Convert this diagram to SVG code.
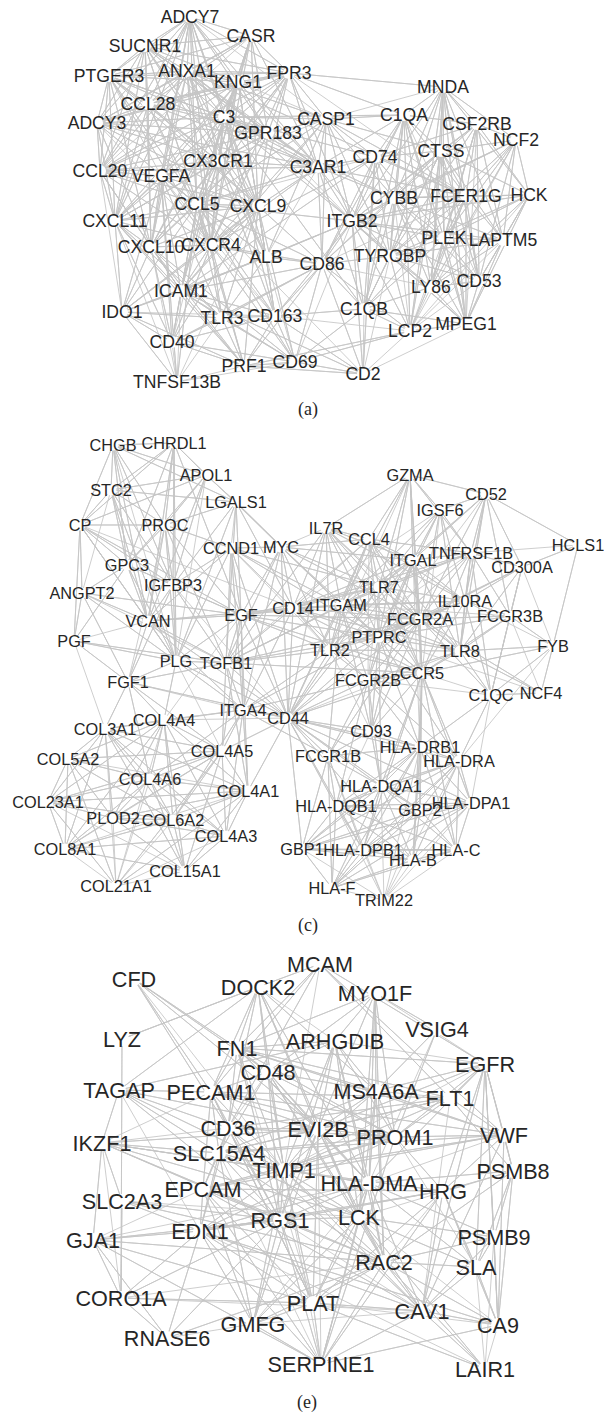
<svg xmlns="http://www.w3.org/2000/svg" width="604" height="1416" viewBox="0 0 604 1416">
<style>
.edges path{fill:none;stroke:#c5c5c5;stroke-width:0.85;stroke-linejoin:round;stroke-linecap:round}
.node circle{fill:#fff}
.node text{font-family:"Liberation Sans",Arial,Helvetica,sans-serif;fill:#262626;text-anchor:middle}
#panel-a .node text{font-size:17.6px}
#panel-c .node text{font-size:16.3px}
#panel-e .node text{font-size:21.6px}
.caption{font-family:"Liberation Serif","Times New Roman",serif;font-size:18px;fill:#262626;text-anchor:middle}
</style>
<rect width="604" height="1416" fill="#fff"/>

<!-- ===== Panel (a) ===== -->
<g id="panel-a">
<g id="edges-a" class="edges">
<path d="M190 17 251 36 190 17 145 46 190 17 109 76 190 17 187 71 190 17 238 82 190 17 289 73 190 17 148 104 190 17 97 123 190 17 224 117 190 17 268 133 190 17 218 161 190 17 100 171 190 17 318 167 190 17 197 204 190 17 258 206 190 17 115 221 190 17 151 247 190 17 211 245 190 17 161 176 190 17 326 119"/>
<path d="M251 36 145 46 251 36 187 71 251 36 238 82 251 36 289 73 251 36 148 104 251 36 224 117 251 36 268 133 251 36 218 161 251 36 318 167 251 36 197 204 251 36 258 206 251 36 211 245 251 36 109 76 251 36 97 123 251 36 100 171"/>
<path d="M145 46 109 76 145 46 187 71 145 46 238 82 145 46 289 73 145 46 148 104 145 46 97 123 145 46 224 117 145 46 268 133 145 46 218 161 145 46 100 171 145 46 318 167 145 46 197 204 145 46 258 206 145 46 115 221 145 46 151 247 145 46 211 245"/>
<path d="M109 76 187 71 109 76 238 82 109 76 289 73 109 76 148 104 109 76 97 123 109 76 224 117 109 76 268 133 109 76 218 161 109 76 100 171 109 76 318 167 109 76 197 204 109 76 258 206 109 76 115 221 109 76 151 247 109 76 211 245 109 76 161 176"/>
<path d="M187 71 238 82 187 71 289 73 187 71 148 104 187 71 97 123 187 71 224 117 187 71 268 133 187 71 218 161 187 71 100 171 187 71 318 167 187 71 197 204 187 71 258 206 187 71 115 221 187 71 151 247 187 71 211 245 187 71 326 119 187 71 266 257 187 71 466 196 187 71 352 221 187 71 161 176"/>
<path d="M238 82 289 73 238 82 148 104 238 82 97 123 238 82 224 117 238 82 268 133 238 82 218 161 238 82 100 171 238 82 318 167 238 82 197 204 238 82 258 206 238 82 115 221 238 82 151 247 238 82 211 245 238 82 266 257 238 82 161 176 238 82 326 119"/>
<path d="M289 73 148 104 289 73 97 123 289 73 224 117 289 73 268 133 289 73 218 161 289 73 100 171 289 73 318 167 289 73 197 204 289 73 258 206 289 73 115 221 289 73 151 247 289 73 211 245 289 73 443 87 289 73 404 115 289 73 326 119 289 73 352 221 289 73 466 196"/>
<path d="M148 104 97 123 148 104 224 117 148 104 268 133 148 104 218 161 148 104 100 171 148 104 318 167 148 104 197 204 148 104 258 206 148 104 115 221 148 104 151 247 148 104 211 245"/>
<path d="M97 123 224 117 97 123 268 133 97 123 218 161 97 123 100 171 97 123 318 167 97 123 197 204 97 123 258 206 97 123 115 221 97 123 151 247 97 123 211 245"/>
<path d="M224 117 268 133 224 117 218 161 224 117 100 171 224 117 318 167 224 117 197 204 224 117 258 206 224 117 115 221 224 117 151 247 224 117 211 245 224 117 326 119 224 117 404 115 224 117 266 257 224 117 352 221 224 117 364 309 224 117 375 157 224 117 394 198 224 117 181 291 224 117 275 316 224 117 161 176"/>
<path d="M268 133 218 161 268 133 100 171 268 133 318 167 268 133 197 204 268 133 258 206 268 133 115 221 268 133 151 247 268 133 211 245 268 133 326 119 268 133 352 221"/>
<path d="M326 119 404 115 326 119 375 157 326 119 352 221 326 119 394 198 326 119 390 256 326 119 318 167 326 119 266 257 326 119 181 291 326 119 197 204 326 119 211 245 326 119 466 196 326 119 441 151 326 119 322 264 326 119 218 161"/>
<path d="M404 115 443 87 404 115 477 124 404 115 375 157 404 115 441 151 404 115 394 198 404 115 466 196 404 115 352 221 404 115 444 238 404 115 390 256 404 115 322 264 404 115 364 309 404 115 431 287 404 115 410 331 404 115 466 324 404 115 318 167 404 115 479 281"/>
<path d="M443 87 477 124 443 87 516 140 443 87 441 151 443 87 394 198 443 87 466 196 443 87 529 195 443 87 352 221 443 87 444 238 443 87 503 240 443 87 390 256 443 87 479 281 443 87 431 287 443 87 466 324 443 87 410 331 443 87 326 119"/>
<path d="M477 124 516 140 477 124 375 157 477 124 441 151 477 124 394 198 477 124 466 196 477 124 529 195 477 124 352 221 477 124 444 238 477 124 503 240 477 124 390 256 477 124 479 281 477 124 431 287 477 124 466 324"/>
<path d="M516 140 441 151 516 140 394 198 516 140 466 196 516 140 529 195 516 140 352 221 516 140 444 238 516 140 503 240 516 140 390 256 516 140 479 281 516 140 431 287 516 140 410 331"/>
<path d="M375 157 441 151 375 157 394 198 375 157 466 196 375 157 352 221 375 157 444 238 375 157 390 256 375 157 322 264 375 157 364 309 375 157 318 167 375 157 211 245 375 157 181 291 375 157 363 374 375 157 197 204"/>
<path d="M441 151 394 198 441 151 466 196 441 151 529 195 441 151 352 221 441 151 444 238 441 151 503 240 441 151 390 256 441 151 479 281 441 151 431 287 441 151 364 309 441 151 466 324 441 151 410 331 441 151 322 264"/>
<path d="M218 161 100 171 218 161 161 176 218 161 318 167 218 161 197 204 218 161 258 206 218 161 115 221 218 161 151 247 218 161 211 245 218 161 266 257 218 161 181 291 218 161 275 316 218 161 172 342"/>
<path d="M100 171 161 176 100 171 318 167 100 171 197 204 100 171 258 206 100 171 115 221 100 171 151 247 100 171 211 245 100 171 181 291 100 171 122 312"/>
<path d="M161 176 197 204 161 176 258 206 161 176 115 221 161 176 151 247 161 176 211 245 161 176 266 257 161 176 181 291 161 176 122 312 161 176 222 318 161 176 172 342 161 176 177 382 161 176 275 316"/>
<path d="M318 167 394 198 318 167 197 204 318 167 258 206 318 167 352 221 318 167 211 245 318 167 390 256 318 167 322 264 318 167 364 309 318 167 466 196 318 167 266 257"/>
<path d="M394 198 466 196 394 198 529 195 394 198 352 221 394 198 444 238 394 198 503 240 394 198 390 256 394 198 322 264 394 198 479 281 394 198 431 287 394 198 364 309 394 198 466 324 394 198 410 331"/>
<path d="M466 196 529 195 466 196 352 221 466 196 444 238 466 196 503 240 466 196 390 256 466 196 479 281 466 196 431 287 466 196 364 309 466 196 466 324 466 196 410 331 466 196 322 264"/>
<path d="M529 195 352 221 529 195 444 238 529 195 503 240 529 195 390 256 529 195 479 281 529 195 431 287 529 195 466 324 529 195 410 331"/>
<path d="M197 204 258 206 197 204 115 221 197 204 151 247 197 204 211 245 197 204 266 257 197 204 181 291 197 204 122 312 197 204 222 318 197 204 172 342 197 204 244 366 197 204 295 362 197 204 177 382 197 204 322 264 197 204 352 221 197 204 275 316 197 204 363 374"/>
<path d="M258 206 115 221 258 206 151 247 258 206 211 245 258 206 266 257 258 206 181 291 258 206 122 312 258 206 222 318 258 206 172 342 258 206 244 366 258 206 295 362 258 206 322 264 258 206 275 316 258 206 177 382"/>
<path d="M115 221 151 247 115 221 211 245 115 221 181 291 115 221 122 312 115 221 222 318 115 221 172 342 115 221 244 366 115 221 177 382"/>
<path d="M352 221 444 238 352 221 503 240 352 221 390 256 352 221 322 264 352 221 479 281 352 221 431 287 352 221 364 309 352 221 466 324 352 221 410 331 352 221 363 374 352 221 181 291 352 221 266 257 352 221 275 316 352 221 295 362"/>
<path d="M151 247 211 245 151 247 181 291 151 247 122 312 151 247 222 318 151 247 172 342 151 247 244 366 151 247 295 362 151 247 177 382"/>
<path d="M211 245 266 257 211 245 181 291 211 245 122 312 211 245 222 318 211 245 172 342 211 245 244 366 211 245 295 362 211 245 322 264 211 245 275 316"/>
<path d="M266 257 181 291 266 257 275 316 266 257 222 318 266 257 322 264 266 257 122 312 266 257 295 362"/>
<path d="M444 238 503 240 444 238 390 256 444 238 479 281 444 238 431 287 444 238 364 309 444 238 466 324 444 238 410 331"/>
<path d="M503 240 390 256 503 240 479 281 503 240 431 287 503 240 466 324 503 240 410 331"/>
<path d="M390 256 322 264 390 256 479 281 390 256 431 287 390 256 364 309 390 256 466 324 390 256 410 331 390 256 363 374"/>
<path d="M322 264 181 291 322 264 364 309 322 264 275 316 322 264 222 318 322 264 172 342 322 264 244 366 322 264 295 362 322 264 363 374 322 264 410 331 322 264 431 287"/>
<path d="M479 281 431 287 479 281 466 324 479 281 410 331"/>
<path d="M431 287 364 309 431 287 466 324 431 287 410 331"/>
<path d="M181 291 122 312 181 291 275 316 181 291 222 318 181 291 172 342 181 291 244 366 181 291 295 362 181 291 363 374 181 291 177 382"/>
<path d="M364 309 275 316 364 309 466 324 364 309 410 331 364 309 295 362 364 309 363 374"/>
<path d="M122 312 222 318 122 312 172 342 122 312 244 366 122 312 177 382 122 312 275 316"/>
<path d="M275 316 222 318 275 316 172 342 275 316 244 366 275 316 295 362 275 316 363 374 275 316 410 331"/>
<path d="M222 318 172 342 222 318 244 366 222 318 295 362 222 318 177 382"/>
<path d="M466 324 410 331 466 324 363 374"/>
<path d="M410 331 244 366 410 331 295 362 410 331 363 374"/>
<path d="M172 342 244 366 172 342 295 362 172 342 177 382"/>
<path d="M244 366 295 362 244 366 363 374 244 366 177 382"/>
<path d="M295 362 363 374 295 362 177 382"/>
</g>
<g id="nodes-a">
<g id="a-ADCY7" class="node" transform="translate(190 17)"><circle r="6"/><text y="6">ADCY7</text></g>
<g id="a-CASR" class="node" transform="translate(251 36)"><circle r="6"/><text y="6">CASR</text></g>
<g id="a-SUCNR1" class="node" transform="translate(145 46)"><circle r="6"/><text y="6">SUCNR1</text></g>
<g id="a-PTGER3" class="node" transform="translate(109 76)"><circle r="6"/><text y="6">PTGER3</text></g>
<g id="a-ANXA1" class="node" transform="translate(187 71)"><circle r="6"/><text y="6">ANXA1</text></g>
<g id="a-KNG1" class="node" transform="translate(238 82)"><circle r="6"/><text y="6">KNG1</text></g>
<g id="a-FPR3" class="node" transform="translate(289 73)"><circle r="6"/><text y="6">FPR3</text></g>
<g id="a-CCL28" class="node" transform="translate(148 104)"><circle r="6"/><text y="6">CCL28</text></g>
<g id="a-ADCY3" class="node" transform="translate(97 123)"><circle r="6"/><text y="6">ADCY3</text></g>
<g id="a-C3" class="node" transform="translate(224 117)"><circle r="6"/><text y="6">C3</text></g>
<g id="a-GPR183" class="node" transform="translate(268 133)"><circle r="6"/><text y="6">GPR183</text></g>
<g id="a-CASP1" class="node" transform="translate(326 119)"><circle r="6"/><text y="6">CASP1</text></g>
<g id="a-C1QA" class="node" transform="translate(404 115)"><circle r="6"/><text y="6">C1QA</text></g>
<g id="a-MNDA" class="node" transform="translate(443 87)"><circle r="6"/><text y="6">MNDA</text></g>
<g id="a-CSF2RB" class="node" transform="translate(477 124)"><circle r="6"/><text y="6">CSF2RB</text></g>
<g id="a-NCF2" class="node" transform="translate(516 140)"><circle r="6"/><text y="6">NCF2</text></g>
<g id="a-CD74" class="node" transform="translate(375 157)"><circle r="6"/><text y="6">CD74</text></g>
<g id="a-CTSS" class="node" transform="translate(441 151)"><circle r="6"/><text y="6">CTSS</text></g>
<g id="a-CX3CR1" class="node" transform="translate(218 161)"><circle r="6"/><text y="6">CX3CR1</text></g>
<g id="a-CCL20" class="node" transform="translate(100 171)"><circle r="6"/><text y="6">CCL20</text></g>
<g id="a-VEGFA" class="node" transform="translate(161 176)"><circle r="6"/><text y="6">VEGFA</text></g>
<g id="a-C3AR1" class="node" transform="translate(318 167)"><circle r="6"/><text y="6">C3AR1</text></g>
<g id="a-CYBB" class="node" transform="translate(394 198)"><circle r="6"/><text y="6">CYBB</text></g>
<g id="a-FCER1G" class="node" transform="translate(466 196)"><circle r="6"/><text y="6">FCER1G</text></g>
<g id="a-HCK" class="node" transform="translate(529 195)"><circle r="6"/><text y="6">HCK</text></g>
<g id="a-CCL5" class="node" transform="translate(197 204)"><circle r="6"/><text y="6">CCL5</text></g>
<g id="a-CXCL9" class="node" transform="translate(258 206)"><circle r="6"/><text y="6">CXCL9</text></g>
<g id="a-CXCL11" class="node" transform="translate(115 221)"><circle r="6"/><text y="6">CXCL11</text></g>
<g id="a-ITGB2" class="node" transform="translate(352 221)"><circle r="6"/><text y="6">ITGB2</text></g>
<g id="a-CXCL10" class="node" transform="translate(151 247)"><circle r="6"/><text y="6">CXCL10</text></g>
<g id="a-CXCR4" class="node" transform="translate(211 245)"><circle r="6"/><text y="6">CXCR4</text></g>
<g id="a-ALB" class="node" transform="translate(266 257)"><circle r="6"/><text y="6">ALB</text></g>
<g id="a-PLEK" class="node" transform="translate(444 238)"><circle r="6"/><text y="6">PLEK</text></g>
<g id="a-LAPTM5" class="node" transform="translate(503 240)"><circle r="6"/><text y="6">LAPTM5</text></g>
<g id="a-TYROBP" class="node" transform="translate(390 256)"><circle r="6"/><text y="6">TYROBP</text></g>
<g id="a-CD86" class="node" transform="translate(322 264)"><circle r="6"/><text y="6">CD86</text></g>
<g id="a-CD53" class="node" transform="translate(479 281)"><circle r="6"/><text y="6">CD53</text></g>
<g id="a-LY86" class="node" transform="translate(431 287)"><circle r="6"/><text y="6">LY86</text></g>
<g id="a-ICAM1" class="node" transform="translate(181 291)"><circle r="6"/><text y="6">ICAM1</text></g>
<g id="a-C1QB" class="node" transform="translate(364 309)"><circle r="6"/><text y="6">C1QB</text></g>
<g id="a-IDO1" class="node" transform="translate(122 312)"><circle r="6"/><text y="6">IDO1</text></g>
<g id="a-CD163" class="node" transform="translate(275 316)"><circle r="6"/><text y="6">CD163</text></g>
<g id="a-TLR3" class="node" transform="translate(222 318)"><circle r="6"/><text y="6">TLR3</text></g>
<g id="a-MPEG1" class="node" transform="translate(466 324)"><circle r="6"/><text y="6">MPEG1</text></g>
<g id="a-LCP2" class="node" transform="translate(410 331)"><circle r="6"/><text y="6">LCP2</text></g>
<g id="a-CD40" class="node" transform="translate(172 342)"><circle r="6"/><text y="6">CD40</text></g>
<g id="a-PRF1" class="node" transform="translate(244 366)"><circle r="6"/><text y="6">PRF1</text></g>
<g id="a-CD69" class="node" transform="translate(295 362)"><circle r="6"/><text y="6">CD69</text></g>
<g id="a-CD2" class="node" transform="translate(363 374)"><circle r="6"/><text y="6">CD2</text></g>
<g id="a-TNFSF13B" class="node" transform="translate(177 382)"><circle r="6"/><text y="6">TNFSF13B</text></g>
</g>
<text class="caption" x="308" y="415">(a)</text>
</g>

<!-- ===== Panel (c) ===== -->
<g id="panel-c">
<g id="edges-c" class="edges">
<path d="M113 445 174 443 113 445 111 490 113 445 80 525 113 445 165 525 113 445 127 565 113 445 173 585 113 445 148 621 113 445 206 475 113 445 236 502 113 445 176 661"/>
<path d="M174 443 206 475 174 443 111 490 174 443 80 525 174 443 165 525 174 443 127 565 174 443 173 585 174 443 148 621 174 443 176 661 174 443 241 615 174 443 281 547"/>
<path d="M206 475 111 490 206 475 80 525 206 475 165 525 206 475 127 565 206 475 173 585 206 475 236 502 206 475 148 621 206 475 176 661"/>
<path d="M111 490 80 525 111 490 165 525 111 490 127 565 111 490 173 585 111 490 148 621 111 490 236 502 111 490 176 661 111 490 82 593"/>
<path d="M236 502 165 525 236 502 173 585 236 502 241 615 236 502 281 547 236 502 293 608 236 502 226 663 236 502 341 605 236 502 176 661 236 502 231 548"/>
<path d="M80 525 165 525 80 525 127 565 80 525 173 585 80 525 148 621 80 525 82 593 80 525 74 641 80 525 176 661 80 525 241 615 80 525 293 608"/>
<path d="M165 525 127 565 165 525 173 585 165 525 148 621 165 525 176 661 165 525 241 615 165 525 226 663 165 525 231 548 165 525 128 682"/>
<path d="M231 548 281 547 231 548 241 615 231 548 293 608 231 548 226 663 231 548 288 718 231 548 243 710 231 548 173 585 231 548 148 621 231 548 176 661 231 548 379 587 231 548 379 637 231 548 341 605 231 548 330 650"/>
<path d="M281 547 241 615 281 547 293 608 281 547 226 663 281 547 288 718 281 547 243 710 281 547 379 587 281 547 379 637 281 547 341 605 281 547 420 619 281 547 330 650 281 547 413 560 281 547 369 539 281 547 326 528"/>
<path d="M127 565 173 585 127 565 148 621 127 565 176 661 127 565 82 593 127 565 74 641 127 565 241 615"/>
<path d="M173 585 148 621 173 585 176 661 173 585 241 615 173 585 226 663 173 585 128 682 173 585 288 718"/>
<path d="M82 593 148 621 82 593 74 641 82 593 176 661 82 593 128 682 82 593 241 615 82 593 226 663"/>
<path d="M148 621 241 615 148 621 176 661 148 621 226 663 148 621 288 718 148 621 293 608 148 621 243 710 148 621 128 682 148 621 74 641"/>
<path d="M241 615 293 608 241 615 176 661 241 615 226 663 241 615 288 718 241 615 243 710 241 615 341 605 241 615 379 637 241 615 330 650 241 615 379 587 241 615 420 619 241 615 422 673 241 615 222 751 241 615 248 791 241 615 164 720"/>
<path d="M293 608 226 663 293 608 326 528 293 608 369 539 293 608 413 560 293 608 379 587 293 608 341 605 293 608 420 619 293 608 379 637 293 608 330 650 293 608 460 651 293 608 422 673 293 608 288 718 293 608 243 710 293 608 368 680 293 608 465 601 293 608 471 553 293 608 440 510"/>
<path d="M74 641 176 661 74 641 128 682 74 641 226 663 74 641 105 729"/>
<path d="M176 661 226 663 176 661 128 682 176 661 288 718 176 661 243 710 176 661 164 720 176 661 222 751"/>
<path d="M226 663 341 605 226 663 379 637 226 663 330 650 226 663 288 718 226 663 243 710 226 663 128 682 226 663 420 619 226 663 422 673 226 663 379 587 226 663 222 751 226 663 248 791 226 663 326 528 226 663 369 539"/>
<path d="M410 475 486 494 410 475 440 510 410 475 326 528 410 475 369 539 410 475 413 560 410 475 379 587 410 475 420 619 410 475 379 637 410 475 471 553 410 475 341 605 410 475 422 673 410 475 330 650"/>
<path d="M486 494 440 510 486 494 578 545 486 494 413 560 486 494 471 553 486 494 522 567 486 494 465 601 486 494 420 619 486 494 460 651 486 494 510 616 486 494 379 587 486 494 379 637"/>
<path d="M440 510 413 560 440 510 471 553 440 510 341 605 440 510 465 601 440 510 420 619 440 510 379 637 440 510 379 587 440 510 460 651 440 510 422 673"/>
<path d="M326 528 369 539 326 528 413 560 326 528 379 587 326 528 341 605 326 528 420 619 326 528 379 637 326 528 330 650 326 528 422 673 326 528 288 718 326 528 465 601 326 528 460 651"/>
<path d="M369 539 413 560 369 539 471 553 369 539 379 587 369 539 341 605 369 539 465 601 369 539 420 619 369 539 379 637 369 539 330 650 369 539 460 651 369 539 422 673 369 539 288 718 369 539 368 680"/>
<path d="M578 545 522 567 578 545 553 646 578 545 471 553"/>
<path d="M413 560 471 553 413 560 379 587 413 560 341 605 413 560 465 601 413 560 420 619 413 560 379 637 413 560 330 650 413 560 460 651 413 560 422 673 413 560 288 718 413 560 371 731 413 560 368 680 413 560 420 747"/>
<path d="M471 553 379 587 471 553 341 605 471 553 465 601 471 553 420 619 471 553 510 616 471 553 379 637 471 553 460 651 471 553 422 673 471 553 491 695 471 553 522 567 471 553 330 650"/>
<path d="M522 567 465 601 522 567 420 619 522 567 510 616 522 567 379 637 522 567 460 651 522 567 491 695 522 567 553 646"/>
<path d="M379 587 341 605 379 587 465 601 379 587 420 619 379 587 379 637 379 587 330 650 379 587 460 651 379 587 422 673 379 587 288 718 379 587 368 680"/>
<path d="M341 605 465 601 341 605 420 619 341 605 379 637 341 605 330 650 341 605 460 651 341 605 422 673 341 605 288 718 341 605 368 680 341 605 371 731 341 605 328 756 341 605 510 616"/>
<path d="M465 601 420 619 465 601 379 637 465 601 330 650 465 601 460 651 465 601 422 673 465 601 491 695 465 601 510 616 465 601 553 646"/>
<path d="M420 619 510 616 420 619 379 637 420 619 330 650 420 619 460 651 420 619 422 673 420 619 288 718 420 619 368 680 420 619 491 695 420 619 541 693 420 619 328 756 420 619 371 731 420 619 420 747"/>
<path d="M510 616 379 637 510 616 460 651 510 616 422 673 510 616 553 646 510 616 491 695 510 616 541 693"/>
<path d="M379 637 330 650 379 637 460 651 379 637 422 673 379 637 288 718 379 637 368 680 379 637 371 731 379 637 420 747 379 637 459 761 379 637 243 710 379 637 381 786 379 637 541 693"/>
<path d="M330 650 460 651 330 650 422 673 330 650 288 718 330 650 368 680 330 650 243 710 330 650 371 731"/>
<path d="M460 651 553 646 460 651 422 673 460 651 368 680 460 651 491 695 460 651 541 693 460 651 288 718"/>
<path d="M553 646 422 673 553 646 541 693 553 646 491 695 553 646 459 761"/>
<path d="M422 673 288 718 422 673 368 680 422 673 371 731 422 673 420 747 422 673 459 761 422 673 381 786 422 673 420 810 422 673 471 803 422 673 363 850 422 673 413 860 422 673 456 850 422 673 491 695"/>
<path d="M128 682 105 729 128 682 164 720 128 682 222 751 128 682 150 779 128 682 288 718 128 682 243 710"/>
<path d="M243 710 288 718 243 710 164 720 243 710 222 751 243 710 150 779 243 710 248 791 243 710 226 836 243 710 173 820 243 710 328 756 243 710 368 680 243 710 105 729"/>
<path d="M288 718 368 680 288 718 371 731 288 718 420 747 288 718 328 756 288 718 459 761 288 718 381 786 288 718 336 806 288 718 420 810 288 718 471 803 288 718 302 849 288 718 363 850 288 718 413 860 288 718 222 751 288 718 248 791 288 718 164 720"/>
<path d="M105 729 164 720 105 729 68 759 105 729 222 751 105 729 150 779 105 729 248 791 105 729 48 802 105 729 113 818 105 729 173 820 105 729 226 836 105 729 65 849 105 729 185 871 105 729 116 886"/>
<path d="M164 720 68 759 164 720 222 751 164 720 150 779 164 720 248 791 164 720 48 802 164 720 113 818 164 720 173 820 164 720 226 836 164 720 65 849 164 720 185 871 164 720 116 886"/>
<path d="M68 759 222 751 68 759 150 779 68 759 48 802 68 759 113 818 68 759 173 820 68 759 65 849 68 759 116 886 68 759 248 791"/>
<path d="M222 751 150 779 222 751 248 791 222 751 48 802 222 751 113 818 222 751 173 820 222 751 226 836 222 751 185 871 222 751 116 886 222 751 65 849"/>
<path d="M150 779 248 791 150 779 48 802 150 779 113 818 150 779 173 820 150 779 226 836 150 779 65 849 150 779 185 871 150 779 116 886"/>
<path d="M248 791 48 802 248 791 113 818 248 791 173 820 248 791 226 836 248 791 185 871 248 791 116 886 248 791 65 849"/>
<path d="M48 802 113 818 48 802 173 820 48 802 65 849 48 802 116 886 48 802 185 871"/>
<path d="M113 818 173 820 113 818 226 836 113 818 65 849 113 818 185 871 113 818 116 886"/>
<path d="M173 820 226 836 173 820 65 849 173 820 185 871 173 820 116 886"/>
<path d="M226 836 65 849 226 836 185 871 226 836 116 886"/>
<path d="M65 849 185 871 65 849 116 886 M185 871 116 886"/>
<path d="M368 680 371 731 368 680 420 747 368 680 328 756 368 680 459 761 368 680 381 786 368 680 336 806 368 680 491 695"/>
<path d="M491 695 541 693 491 695 459 761 491 695 420 747 491 695 471 803"/>
<path d="M371 731 420 747 371 731 328 756 371 731 381 786 371 731 336 806"/>
<path d="M420 747 328 756 420 747 459 761 420 747 381 786 420 747 336 806 420 747 420 810 420 747 471 803 420 747 302 849 420 747 363 850 420 747 413 860 420 747 456 850 420 747 332 888 420 747 384 900"/>
<path d="M328 756 381 786 328 756 336 806 328 756 302 849 328 756 363 850 328 756 332 888 328 756 384 900"/>
<path d="M459 761 381 786 459 761 336 806 459 761 420 810 459 761 471 803 459 761 302 849 459 761 363 850 459 761 413 860 459 761 456 850 459 761 332 888 459 761 384 900"/>
<path d="M381 786 336 806 381 786 420 810 381 786 471 803 381 786 302 849 381 786 363 850 381 786 413 860 381 786 456 850 381 786 332 888 381 786 384 900"/>
<path d="M336 806 420 810 336 806 471 803 336 806 302 849 336 806 363 850 336 806 413 860 336 806 456 850 336 806 332 888 336 806 384 900"/>
<path d="M420 810 471 803 420 810 302 849 420 810 363 850 420 810 413 860 420 810 456 850 420 810 332 888 420 810 384 900"/>
<path d="M471 803 302 849 471 803 363 850 471 803 413 860 471 803 456 850 471 803 332 888 471 803 384 900"/>
<path d="M302 849 363 850 302 849 413 860 302 849 456 850 302 849 332 888 302 849 384 900"/>
<path d="M363 850 413 860 363 850 456 850 363 850 332 888 363 850 384 900"/>
<path d="M413 860 456 850 413 860 332 888 413 860 384 900"/>
<path d="M456 850 332 888 456 850 384 900 M332 888 384 900"/>
</g>
<g id="nodes-c">
<g id="c-CHGB" class="node" transform="translate(113 445)"><circle r="5.5"/><text y="5.5">CHGB</text></g>
<g id="c-CHRDL1" class="node" transform="translate(174 443)"><circle r="5.5"/><text y="5.5">CHRDL1</text></g>
<g id="c-APOL1" class="node" transform="translate(206 475)"><circle r="5.5"/><text y="5.5">APOL1</text></g>
<g id="c-STC2" class="node" transform="translate(111 490)"><circle r="5.5"/><text y="5.5">STC2</text></g>
<g id="c-LGALS1" class="node" transform="translate(236 502)"><circle r="5.5"/><text y="5.5">LGALS1</text></g>
<g id="c-CP" class="node" transform="translate(80 525)"><circle r="5.5"/><text y="5.5">CP</text></g>
<g id="c-PROC" class="node" transform="translate(165 525)"><circle r="5.5"/><text y="5.5">PROC</text></g>
<g id="c-CCND1" class="node" transform="translate(231 548)"><circle r="5.5"/><text y="5.5">CCND1</text></g>
<g id="c-MYC" class="node" transform="translate(281 547)"><circle r="5.5"/><text y="5.5">MYC</text></g>
<g id="c-GPC3" class="node" transform="translate(127 565)"><circle r="5.5"/><text y="5.5">GPC3</text></g>
<g id="c-IGFBP3" class="node" transform="translate(173 585)"><circle r="5.5"/><text y="5.5">IGFBP3</text></g>
<g id="c-ANGPT2" class="node" transform="translate(82 593)"><circle r="5.5"/><text y="5.5">ANGPT2</text></g>
<g id="c-VCAN" class="node" transform="translate(148 621)"><circle r="5.5"/><text y="5.5">VCAN</text></g>
<g id="c-EGF" class="node" transform="translate(241 615)"><circle r="5.5"/><text y="5.5">EGF</text></g>
<g id="c-CD14" class="node" transform="translate(293 608)"><circle r="5.5"/><text y="5.5">CD14</text></g>
<g id="c-PGF" class="node" transform="translate(74 641)"><circle r="5.5"/><text y="5.5">PGF</text></g>
<g id="c-PLG" class="node" transform="translate(176 661)"><circle r="5.5"/><text y="5.5">PLG</text></g>
<g id="c-TGFB1" class="node" transform="translate(226 663)"><circle r="5.5"/><text y="5.5">TGFB1</text></g>
<g id="c-GZMA" class="node" transform="translate(410 475)"><circle r="5.5"/><text y="5.5">GZMA</text></g>
<g id="c-CD52" class="node" transform="translate(486 494)"><circle r="5.5"/><text y="5.5">CD52</text></g>
<g id="c-IGSF6" class="node" transform="translate(440 510)"><circle r="5.5"/><text y="5.5">IGSF6</text></g>
<g id="c-IL7R" class="node" transform="translate(326 528)"><circle r="5.5"/><text y="5.5">IL7R</text></g>
<g id="c-CCL4" class="node" transform="translate(369 539)"><circle r="5.5"/><text y="5.5">CCL4</text></g>
<g id="c-HCLS1" class="node" transform="translate(578 545)"><circle r="5.5"/><text y="5.5">HCLS1</text></g>
<g id="c-ITGAL" class="node" transform="translate(413 560)"><circle r="5.5"/><text y="5.5">ITGAL</text></g>
<g id="c-TNFRSF1B" class="node" transform="translate(471 553)"><circle r="5.5"/><text y="5.5">TNFRSF1B</text></g>
<g id="c-CD300A" class="node" transform="translate(522 567)"><circle r="5.5"/><text y="5.5">CD300A</text></g>
<g id="c-TLR7" class="node" transform="translate(379 587)"><circle r="5.5"/><text y="5.5">TLR7</text></g>
<g id="c-ITGAM" class="node" transform="translate(341 605)"><circle r="5.5"/><text y="5.5">ITGAM</text></g>
<g id="c-IL10RA" class="node" transform="translate(465 601)"><circle r="5.5"/><text y="5.5">IL10RA</text></g>
<g id="c-FCGR2A" class="node" transform="translate(420 619)"><circle r="5.5"/><text y="5.5">FCGR2A</text></g>
<g id="c-FCGR3B" class="node" transform="translate(510 616)"><circle r="5.5"/><text y="5.5">FCGR3B</text></g>
<g id="c-PTPRC" class="node" transform="translate(379 637)"><circle r="5.5"/><text y="5.5">PTPRC</text></g>
<g id="c-TLR2" class="node" transform="translate(330 650)"><circle r="5.5"/><text y="5.5">TLR2</text></g>
<g id="c-TLR8" class="node" transform="translate(460 651)"><circle r="5.5"/><text y="5.5">TLR8</text></g>
<g id="c-FYB" class="node" transform="translate(553 646)"><circle r="5.5"/><text y="5.5">FYB</text></g>
<g id="c-CCR5" class="node" transform="translate(422 673)"><circle r="5.5"/><text y="5.5">CCR5</text></g>
<g id="c-FGF1" class="node" transform="translate(128 682)"><circle r="5.5"/><text y="5.5">FGF1</text></g>
<g id="c-ITGA4" class="node" transform="translate(243 710)"><circle r="5.5"/><text y="5.5">ITGA4</text></g>
<g id="c-CD44" class="node" transform="translate(288 718)"><circle r="5.5"/><text y="5.5">CD44</text></g>
<g id="c-COL3A1" class="node" transform="translate(105 729)"><circle r="5.5"/><text y="5.5">COL3A1</text></g>
<g id="c-COL4A4" class="node" transform="translate(164 720)"><circle r="5.5"/><text y="5.5">COL4A4</text></g>
<g id="c-COL5A2" class="node" transform="translate(68 759)"><circle r="5.5"/><text y="5.5">COL5A2</text></g>
<g id="c-COL4A5" class="node" transform="translate(222 751)"><circle r="5.5"/><text y="5.5">COL4A5</text></g>
<g id="c-COL4A6" class="node" transform="translate(150 779)"><circle r="5.5"/><text y="5.5">COL4A6</text></g>
<g id="c-COL4A1" class="node" transform="translate(248 791)"><circle r="5.5"/><text y="5.5">COL4A1</text></g>
<g id="c-COL23A1" class="node" transform="translate(48 802)"><circle r="5.5"/><text y="5.5">COL23A1</text></g>
<g id="c-PLOD2" class="node" transform="translate(113 818)"><circle r="5.5"/><text y="5.5">PLOD2</text></g>
<g id="c-COL6A2" class="node" transform="translate(173 820)"><circle r="5.5"/><text y="5.5">COL6A2</text></g>
<g id="c-COL4A3" class="node" transform="translate(226 836)"><circle r="5.5"/><text y="5.5">COL4A3</text></g>
<g id="c-COL8A1" class="node" transform="translate(65 849)"><circle r="5.5"/><text y="5.5">COL8A1</text></g>
<g id="c-COL15A1" class="node" transform="translate(185 871)"><circle r="5.5"/><text y="5.5">COL15A1</text></g>
<g id="c-COL21A1" class="node" transform="translate(116 886)"><circle r="5.5"/><text y="5.5">COL21A1</text></g>
<g id="c-FCGR2B" class="node" transform="translate(368 680)"><circle r="5.5"/><text y="5.5">FCGR2B</text></g>
<g id="c-C1QC" class="node" transform="translate(491 695)"><circle r="5.5"/><text y="5.5">C1QC</text></g>
<g id="c-NCF4" class="node" transform="translate(541 693)"><circle r="5.5"/><text y="5.5">NCF4</text></g>
<g id="c-CD93" class="node" transform="translate(371 731)"><circle r="5.5"/><text y="5.5">CD93</text></g>
<g id="c-HLA-DRB1" class="node" transform="translate(420 747)"><circle r="5.5"/><text y="5.5">HLA-DRB1</text></g>
<g id="c-FCGR1B" class="node" transform="translate(328 756)"><circle r="5.5"/><text y="5.5">FCGR1B</text></g>
<g id="c-HLA-DRA" class="node" transform="translate(459 761)"><circle r="5.5"/><text y="5.5">HLA-DRA</text></g>
<g id="c-HLA-DQA1" class="node" transform="translate(381 786)"><circle r="5.5"/><text y="5.5">HLA-DQA1</text></g>
<g id="c-HLA-DQB1" class="node" transform="translate(336 806)"><circle r="5.5"/><text y="5.5">HLA-DQB1</text></g>
<g id="c-GBP2" class="node" transform="translate(420 810)"><circle r="5.5"/><text y="5.5">GBP2</text></g>
<g id="c-HLA-DPA1" class="node" transform="translate(471 803)"><circle r="5.5"/><text y="5.5">HLA-DPA1</text></g>
<g id="c-GBP1" class="node" transform="translate(302 849)"><circle r="5.5"/><text y="5.5">GBP1</text></g>
<g id="c-HLA-DPB1" class="node" transform="translate(363 850)"><circle r="5.5"/><text y="5.5">HLA-DPB1</text></g>
<g id="c-HLA-B" class="node" transform="translate(413 860)"><circle r="5.5"/><text y="5.5">HLA-B</text></g>
<g id="c-HLA-C" class="node" transform="translate(456 850)"><circle r="5.5"/><text y="5.5">HLA-C</text></g>
<g id="c-HLA-F" class="node" transform="translate(332 888)"><circle r="5.5"/><text y="5.5">HLA-F</text></g>
<g id="c-TRIM22" class="node" transform="translate(384 900)"><circle r="5.5"/><text y="5.5">TRIM22</text></g>
</g>
<text class="caption" x="308" y="931">(c)</text>
</g>

<!-- ===== Panel (e) ===== -->
<g id="panel-e">
<g id="edges-e" class="edges">
<path d="M320 964 258 987 320 964 237 1048 320 964 211 1092 320 964 485 1064 320 964 504 1135 320 964 228 1128 320 964 450 1098 320 964 284 1170"/>
<path d="M134 979 237 1048 134 979 211 1092 134 979 228 1128 134 979 268 1072 134 979 318 1129 134 979 284 1170"/>
<path d="M258 987 122 1039 258 987 119 1090 258 987 237 1048 258 987 268 1072 258 987 211 1092 258 987 228 1128 258 987 318 1129 258 987 284 1170 258 987 369 1183 258 987 359 1217 258 987 376 1091 258 987 335 1041"/>
<path d="M375 993 335 1041 375 993 376 1091 375 993 395 1137 375 993 369 1183 375 993 359 1217 375 993 384 1262 375 993 318 1129 375 993 268 1072 375 993 237 1048 375 993 437 1029 375 993 485 1064"/>
<path d="M122 1039 121 1298 122 1039 258 987"/>
<path d="M237 1048 335 1041 237 1048 485 1064 237 1048 268 1072 237 1048 211 1092 237 1048 376 1091 237 1048 450 1098 237 1048 228 1128 237 1048 318 1129 237 1048 395 1137 237 1048 504 1135 237 1048 284 1170 237 1048 369 1183 237 1048 280 1220 237 1048 313 1303"/>
<path d="M335 1041 268 1072 335 1041 376 1091 335 1041 318 1129 335 1041 395 1137 335 1041 369 1183 335 1041 359 1217 335 1041 384 1262 335 1041 284 1170 335 1041 119 1090 335 1041 280 1220 335 1041 485 1064"/>
<path d="M437 1029 376 1091 437 1029 395 1137 437 1029 369 1183"/>
<path d="M485 1064 376 1091 485 1064 450 1098 485 1064 395 1137 485 1064 504 1135 485 1064 513 1171 485 1064 494 1237 485 1064 476 1267 485 1064 498 1325 485 1064 369 1183 485 1064 443 1191 485 1064 422 1311 485 1064 318 1129 485 1064 284 1170"/>
<path d="M268 1072 211 1092 268 1072 376 1091 268 1072 318 1129 268 1072 395 1137 268 1072 284 1170 268 1072 369 1183 268 1072 280 1220 268 1072 359 1217 268 1072 384 1262 268 1072 219 1153 268 1072 228 1128"/>
<path d="M119 1090 211 1092 119 1090 228 1128 119 1090 102 1143 119 1090 219 1153 119 1090 284 1170 119 1090 280 1220 119 1090 318 1129 119 1090 200 1231"/>
<path d="M211 1092 450 1098 211 1092 228 1128 211 1092 318 1129 211 1092 395 1137 211 1092 504 1135 211 1092 219 1153 211 1092 284 1170 211 1092 203 1189 211 1092 280 1220 211 1092 313 1303 211 1092 102 1143"/>
<path d="M376 1091 318 1129 376 1091 395 1137 376 1091 369 1183 376 1091 359 1217 376 1091 384 1262 376 1091 504 1135 376 1091 284 1170 376 1091 219 1153 376 1091 450 1098"/>
<path d="M450 1098 395 1137 450 1098 504 1135 450 1098 228 1128 450 1098 318 1129 450 1098 284 1170 450 1098 219 1153 450 1098 513 1171 450 1098 422 1311"/>
<path d="M228 1128 318 1129 228 1128 219 1153 228 1128 284 1170 228 1128 203 1189 228 1128 280 1220 228 1128 200 1231 228 1128 313 1303 228 1128 422 1311 228 1128 395 1137 228 1128 102 1143"/>
<path d="M318 1129 395 1137 318 1129 219 1153 318 1129 284 1170 318 1129 369 1183 318 1129 280 1220 318 1129 359 1217 318 1129 384 1262 318 1129 102 1143 318 1129 313 1303 318 1129 253 1324 318 1129 321 1364"/>
<path d="M395 1137 504 1135 395 1137 284 1170 395 1137 203 1189 395 1137 219 1153 395 1137 443 1191 395 1137 200 1231 395 1137 321 1364 395 1137 476 1267"/>
<path d="M504 1135 513 1171 504 1135 284 1170 504 1135 219 1153 504 1135 422 1311 504 1135 203 1189 504 1135 443 1191 504 1135 498 1325 504 1135 369 1183"/>
<path d="M102 1143 219 1153 102 1143 284 1170 102 1143 369 1183 102 1143 280 1220 102 1143 359 1217 102 1143 384 1262 102 1143 122 1201 102 1143 93 1240 102 1143 121 1298"/>
<path d="M219 1153 284 1170 219 1153 280 1220 219 1153 203 1189 219 1153 200 1231 219 1153 359 1217 219 1153 384 1262 219 1153 253 1324 219 1153 321 1364"/>
<path d="M284 1170 369 1183 284 1170 443 1191 284 1170 203 1189 284 1170 280 1220 284 1170 200 1231 284 1170 359 1217 284 1170 384 1262 284 1170 313 1303 284 1170 422 1311 284 1170 253 1324 284 1170 321 1364"/>
<path d="M513 1171 443 1191 513 1171 494 1237 513 1171 476 1267 513 1171 498 1325 513 1171 369 1183 513 1171 384 1262 513 1171 359 1217"/>
<path d="M369 1183 280 1220 369 1183 359 1217 369 1183 384 1262 369 1183 313 1303 369 1183 422 1311 369 1183 200 1231 369 1183 494 1237 369 1183 476 1267 369 1183 321 1364 369 1183 253 1324"/>
<path d="M443 1191 203 1189 443 1191 280 1220 443 1191 200 1231 443 1191 313 1303 443 1191 422 1311 443 1191 321 1364 443 1191 476 1267 443 1191 498 1325 443 1191 384 1262"/>
<path d="M203 1189 280 1220 203 1189 200 1231 203 1189 313 1303 203 1189 422 1311 203 1189 321 1364 203 1189 253 1324 203 1189 93 1240"/>
<path d="M122 1201 121 1298 122 1201 200 1231 122 1201 280 1220 122 1201 384 1262 122 1201 359 1217"/>
<path d="M280 1220 200 1231 280 1220 359 1217 280 1220 384 1262 280 1220 313 1303 280 1220 253 1324 280 1220 167 1338 280 1220 321 1364 280 1220 121 1298 280 1220 93 1240 280 1220 422 1311"/>
<path d="M200 1231 93 1240 200 1231 121 1298 200 1231 313 1303 200 1231 422 1311 200 1231 253 1324 200 1231 167 1338 200 1231 321 1364 200 1231 498 1325 200 1231 485 1369"/>
<path d="M93 1240 121 1298 93 1240 167 1338 93 1240 321 1364 93 1240 313 1303 93 1240 384 1262 93 1240 369 1183"/>
<path d="M359 1217 384 1262 359 1217 476 1267 359 1217 313 1303 359 1217 422 1311 359 1217 253 1324 359 1217 321 1364 359 1217 485 1369 359 1217 494 1237 359 1217 498 1325"/>
<path d="M494 1237 476 1267 494 1237 498 1325 494 1237 384 1262 494 1237 422 1311 494 1237 485 1369"/>
<path d="M384 1262 476 1267 384 1262 313 1303 384 1262 422 1311 384 1262 253 1324 384 1262 167 1338 384 1262 321 1364 384 1262 485 1369 384 1262 498 1325 384 1262 121 1298"/>
<path d="M476 1267 422 1311 476 1267 498 1325 476 1267 485 1369"/>
<path d="M121 1298 167 1338 121 1298 313 1303 121 1298 422 1311"/>
<path d="M313 1303 422 1311 313 1303 253 1324 313 1303 321 1364 313 1303 485 1369 313 1303 498 1325"/>
<path d="M422 1311 498 1325 422 1311 321 1364 422 1311 485 1369 422 1311 253 1324"/>
<path d="M498 1325 321 1364 498 1325 485 1369"/>
<path d="M253 1324 321 1364 253 1324 167 1338"/>
</g>
<g id="nodes-e">
<g id="e-MCAM" class="node" transform="translate(320 964)"><circle r="7"/><text y="7.5">MCAM</text></g>
<g id="e-CFD" class="node" transform="translate(134 979)"><circle r="7"/><text y="7.5">CFD</text></g>
<g id="e-DOCK2" class="node" transform="translate(258 987)"><circle r="7"/><text y="7.5">DOCK2</text></g>
<g id="e-MYO1F" class="node" transform="translate(375 993)"><circle r="7"/><text y="7.5">MYO1F</text></g>
<g id="e-LYZ" class="node" transform="translate(122 1039)"><circle r="7"/><text y="7.5">LYZ</text></g>
<g id="e-FN1" class="node" transform="translate(237 1048)"><circle r="7"/><text y="7.5">FN1</text></g>
<g id="e-ARHGDIB" class="node" transform="translate(335 1041)"><circle r="7"/><text y="7.5">ARHGDIB</text></g>
<g id="e-VSIG4" class="node" transform="translate(437 1029)"><circle r="7"/><text y="7.5">VSIG4</text></g>
<g id="e-EGFR" class="node" transform="translate(485 1064)"><circle r="7"/><text y="7.5">EGFR</text></g>
<g id="e-CD48" class="node" transform="translate(268 1072)"><circle r="7"/><text y="7.5">CD48</text></g>
<g id="e-TAGAP" class="node" transform="translate(119 1090)"><circle r="7"/><text y="7.5">TAGAP</text></g>
<g id="e-PECAM1" class="node" transform="translate(211 1092)"><circle r="7"/><text y="7.5">PECAM1</text></g>
<g id="e-MS4A6A" class="node" transform="translate(376 1091)"><circle r="7"/><text y="7.5">MS4A6A</text></g>
<g id="e-FLT1" class="node" transform="translate(450 1098)"><circle r="7"/><text y="7.5">FLT1</text></g>
<g id="e-CD36" class="node" transform="translate(228 1128)"><circle r="7"/><text y="7.5">CD36</text></g>
<g id="e-EVI2B" class="node" transform="translate(318 1129)"><circle r="7"/><text y="7.5">EVI2B</text></g>
<g id="e-PROM1" class="node" transform="translate(395 1137)"><circle r="7"/><text y="7.5">PROM1</text></g>
<g id="e-VWF" class="node" transform="translate(504 1135)"><circle r="7"/><text y="7.5">VWF</text></g>
<g id="e-IKZF1" class="node" transform="translate(102 1143)"><circle r="7"/><text y="7.5">IKZF1</text></g>
<g id="e-SLC15A4" class="node" transform="translate(219 1153)"><circle r="7"/><text y="7.5">SLC15A4</text></g>
<g id="e-TIMP1" class="node" transform="translate(284 1170)"><circle r="7"/><text y="7.5">TIMP1</text></g>
<g id="e-PSMB8" class="node" transform="translate(513 1171)"><circle r="7"/><text y="7.5">PSMB8</text></g>
<g id="e-HLA-DMA" class="node" transform="translate(369 1183)"><circle r="7"/><text y="7.5">HLA-DMA</text></g>
<g id="e-HRG" class="node" transform="translate(443 1191)"><circle r="7"/><text y="7.5">HRG</text></g>
<g id="e-EPCAM" class="node" transform="translate(203 1189)"><circle r="7"/><text y="7.5">EPCAM</text></g>
<g id="e-SLC2A3" class="node" transform="translate(122 1201)"><circle r="7"/><text y="7.5">SLC2A3</text></g>
<g id="e-RGS1" class="node" transform="translate(280 1220)"><circle r="7"/><text y="7.5">RGS1</text></g>
<g id="e-EDN1" class="node" transform="translate(200 1231)"><circle r="7"/><text y="7.5">EDN1</text></g>
<g id="e-GJA1" class="node" transform="translate(93 1240)"><circle r="7"/><text y="7.5">GJA1</text></g>
<g id="e-LCK" class="node" transform="translate(359 1217)"><circle r="7"/><text y="7.5">LCK</text></g>
<g id="e-PSMB9" class="node" transform="translate(494 1237)"><circle r="7"/><text y="7.5">PSMB9</text></g>
<g id="e-RAC2" class="node" transform="translate(384 1262)"><circle r="7"/><text y="7.5">RAC2</text></g>
<g id="e-SLA" class="node" transform="translate(476 1267)"><circle r="7"/><text y="7.5">SLA</text></g>
<g id="e-CORO1A" class="node" transform="translate(121 1298)"><circle r="7"/><text y="7.5">CORO1A</text></g>
<g id="e-PLAT" class="node" transform="translate(313 1303)"><circle r="7"/><text y="7.5">PLAT</text></g>
<g id="e-CAV1" class="node" transform="translate(422 1311)"><circle r="7"/><text y="7.5">CAV1</text></g>
<g id="e-CA9" class="node" transform="translate(498 1325)"><circle r="7"/><text y="7.5">CA9</text></g>
<g id="e-GMFG" class="node" transform="translate(253 1324)"><circle r="7"/><text y="7.5">GMFG</text></g>
<g id="e-RNASE6" class="node" transform="translate(167 1338)"><circle r="7"/><text y="7.5">RNASE6</text></g>
<g id="e-SERPINE1" class="node" transform="translate(321 1364)"><circle r="7"/><text y="7.5">SERPINE1</text></g>
<g id="e-LAIR1" class="node" transform="translate(485 1369)"><circle r="7"/><text y="7.5">LAIR1</text></g>
</g>
<text class="caption" x="307" y="1408">(e)</text>
</g>
</svg>
